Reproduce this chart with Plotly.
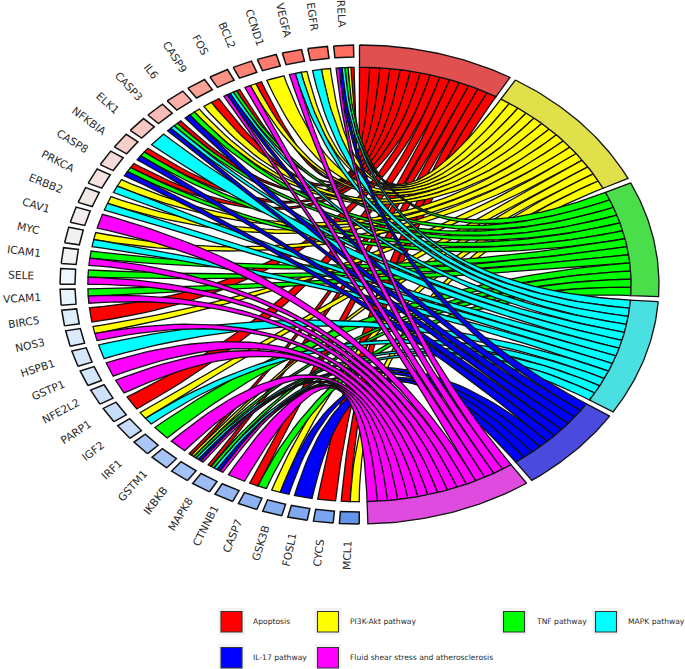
import math
import plotly.graph_objects as go

genes = ["RELA","EGFR","VEGFA","CCND1","BCL2","FOS","CASP9","IL6","CASP3","ELK1","NFKBIA","CASP8",
         "PRKCA","ERBB2","CAV1","MYC","ICAM1","SELE","VCAM1","BIRC5","NOS3","HSPB1","GSTP1","NFE2L2",
         "PARP1","IGF2","IRF1","GSTM1","IKBKB","MAPK8","CTNNB1","CASP7","GSK3B","FOSL1","CYCS","MCL1"]
gene_lfc = [1.0,0.97,0.95,0.9,0.85,0.72,0.62,0.5,0.42,0.32,0.27,0.18,0.12,0.08,0.04,0.02,0.0,-0.02,
            -0.05,-0.12,-0.15,-0.18,-0.2,-0.25,-0.28,-0.3,-0.5,-0.52,-0.55,-0.6,-0.65,-0.7,-0.75,-0.8,-0.85,-1.0]

pathways = ["Apoptosis","PI3K-Akt pathway","TNF pathway","MAPK pathway","IL-17 pathway",
            "Fluid shear stress and atherosclerosis"]
ribbon_colors = ["#ff0000","#ffff00","#00ff00","#00ffff","#0000ff","#ff00ff"]
sector_colors = ["#e15050","#e0e04a","#4adf4a","#4adfe0","#4a4adf","#df4adf"]

apoptosis = ["RELA","BCL2","FOS","CASP9","CASP3","NFKBIA","CASP8","BIRC5","PARP1","IKBKB","MAPK8","CASP7","CYCS","MCL1"]
pi3k = ["RELA","EGFR","VEGFA","CCND1","BCL2","CASP9","IL6","PRKCA","ERBB2","MYC","NOS3","IGF2","IKBKB","GSK3B","MCL1"]
tnf = ["RELA","FOS","IL6","CASP3","NFKBIA","CASP8","ICAM1","SELE","VCAM1","IRF1","IKBKB","MAPK8","CASP7"]
mapk = ["RELA","EGFR","VEGFA","FOS","CASP3","ELK1","PRKCA","ERBB2","MYC","HSPB1","IGF2","IKBKB","MAPK8"]
il17 = ["RELA","FOS","IL6","CASP3","NFKBIA","CASP8","IKBKB","MAPK8","GSK3B","FOSL1"]
shear = ["RELA","VEGFA","BCL2","FOS","CAV1","ICAM1","SELE","VCAM1","NOS3","GSTP1","NFE2L2","GSTM1","IKBKB","MAPK8","CTNNB1"]
members = [apoptosis, pi3k, tnf, mapk, il17, shear]

W, H = 685, 669
CX, CY, RX, RY = 359.5, 284.5, 299.5, 239.5
R_IN, R_BOX = 0.907, 0.95
UNIT, GAP = 2.155, 1.2
PITCH, BOXW, G0 = 5.0, 3.8, 1.15
LABEL_R, FONT = 1.13, 10.7
INK = "#2b2b2b"


def pt(deg, r):
    a = math.radians(deg)
    return r * math.sin(a), r * math.cos(a)


def arc(d0, d1, r, n=24):
    return [pt(d0 + (d1 - d0) * i / n, r) for i in range(n + 1)]


def bez(a, b, n=50):
    out = []
    for i in range(n + 1):
        t = i / n
        out.append(((1 - t) ** 2 * a[0] + t ** 2 * b[0], (1 - t) ** 2 * a[1] + t ** 2 * b[1]))
    return out


def lfc_color(v):
    if v >= 0:
        lo, hi, s = (243, 243, 243), (255, 110, 96), min(1, v)
    else:
        lo, hi, s = (240, 250, 255), (100, 149, 237), min(1, -v)
    c = [round(lo[i] + (hi[i] - lo[i]) * s) for i in range(3)]
    return "rgb(%d,%d,%d)" % tuple(c)


fig = go.Figure()


def poly(points, fill, lw=1.3, name=""):
    fig.add_trace(go.Scatter(x=[p[0] for p in points] + [points[0][0]],
                             y=[p[1] for p in points] + [points[0][1]],
                             mode="lines", fill="toself", fillcolor=fill,
                             line=dict(color="#111111", width=lw), name=name,
                             hoverinfo="name", showlegend=False))


gene_start = {g: 360 - G0 - BOXW - PITCH * i for i, g in enumerate(genes)}
gene_used = {g: 0 for g in genes}
gene_total = {g: sum(g in m for m in members) for g in genes}

# pathway sectors and ribbons
ang = 0.0
sectors = []
for k, (path, mem) in enumerate(zip(pathways, members)):
    start = ang
    for j, g in enumerate(mem):
        p0, p1 = start + UNIT * j, start + UNIT * (j + 1)
        total = gene_total[g]
        u = gene_used[g]
        top = gene_start[g] + BOXW
        g0, g1 = top - BOXW * u / total, top - BOXW * (u + 1) / total
        gene_used[g] += 1
        A0, A1 = pt(p0, R_IN), pt(p1, R_IN)
        B0, B1 = pt(g0, R_IN), pt(g1, R_IN)
        path_pts = arc(p0, p1, R_IN, 6) + bez(A1, B1) + arc(g1, g0, R_IN, 6) + bez(B0, A0)
        poly(path_pts, ribbon_colors[k], 1.3, f"{g} – {path}")
    ang = start + UNIT * len(mem)
    sectors.append((start, ang, k))
    ang += GAP

for start, end, k in sectors:
    poly(arc(start, end, 1.0, 40) + arc(end, start, R_IN, 40), sector_colors[k], 1.3, pathways[k])

for i, g in enumerate(genes):
    s = gene_start[g]
    poly(arc(s, s + BOXW, 1.0, 6) + arc(s + BOXW, s, R_BOX, 6), lfc_color(gene_lfc[i]), 1.5, g)

annotations = []
for i, g in enumerate(genes):
    s = gene_start[g] + BOXW / 2
    phi = 360 - s
    ax, ay = pt(s, LABEL_R)
    annotations.append(dict(x=ax, y=ay, text=g, showarrow=False,
                            xanchor="center", yanchor="middle", textangle=90 - phi,
                            font=dict(size=FONT, color=INK, family="DejaVu Sans")))

# legend
shapes = []
legend_x = [218, 314.5, 500.5, 592.5]
legend_rows = [608, 644]
slots = [(0, 0), (1, 0), (2, 0), (3, 0), (0, 1), (1, 1)]
for k, (c, r) in enumerate(slots):
    x0, y0 = legend_x[c], legend_rows[r]
    shapes.append(dict(type="rect", xref="paper", yref="paper", x0=x0 / W, x1=(x0 + 27) / W,
                       y0=1 - y0 / H, y1=1 - (y0 + 27) / H, fillcolor="#f2f2f2", line=dict(width=0)))
    shapes.append(dict(type="rect", xref="paper", yref="paper", x0=(x0 + 3) / W, x1=(x0 + 24) / W,
                       y0=1 - (y0 + 3.5) / H, y1=1 - (y0 + 24) / H, fillcolor=ribbon_colors[k],
                       line=dict(width=1.1, color="#333333")))
    annotations.append(dict(xref="paper", yref="paper", x=(x0 + 33) / W, y=1 - (y0 + 13.5) / H,
                            text=pathways[k], showarrow=False, xanchor="left", yanchor="middle",
                            font=dict(size=7.6, color=INK, family="DejaVu Sans")))

fig.update_layout(width=W, height=H, margin=dict(l=0, r=0, t=0, b=0), paper_bgcolor="white",
                  plot_bgcolor="white", showlegend=False, annotations=annotations, shapes=shapes,
                  xaxis=dict(visible=False, range=[-CX / RX, (W - CX) / RX], fixedrange=True),
                  yaxis=dict(visible=False, range=[(CY - H) / RY, CY / RY], fixedrange=True))
fig.write_html("out.html", config={"displayModeBar": False},
               post_script="document.body.style.margin='0';document.documentElement.style.overflow='hidden';")
